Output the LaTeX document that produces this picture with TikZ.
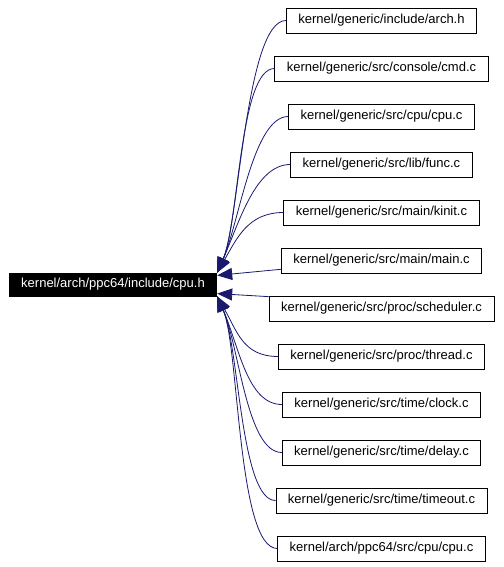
\documentclass[tikz,border=0pt]{standalone}
\usepackage{fontspec}
\setmainfont{Liberation Sans}
\usepackage{xcolor}
\usepackage{tikz}
\usetikzlibrary{positioning,arrows.meta}

\definecolor{edgeblue}{HTML}{191970}

\begin{document}
\begin{tikzpicture}[x=1pt, y=-1pt, node distance=22.2pt,
			box/.style={draw, rectangle, line width=0.8pt, minimum height=25pt, inner xsep=12pt, align=center, font=\fontsize{13}{15}\selectfont},
			arrow/.style={edgeblue, line width=0.8pt, -{Triangle[length=15pt, width=12pt]}}]
			
			\useasboundingbox (0,0) rectangle (503,567);
			
			\node[box, fill=black, text=white, minimum height=23pt] (cpuh) at (113,284.5) {kernel/arch/ppc64/include/cpu.h};
			
			\node[box] (arch) at (381.5,20.5) {kernel/generic/include/arch.h};
			\node[box, below=of arch] (cmd) {kernel/generic/src/console/cmd.c};
			\node[box, below=of cmd] (cpuc) {kernel/generic/src/cpu/cpu.c};
			\node[box, below=of cpuc] (func) {kernel/generic/src/lib/func.c};
			\node[box, below=of func] (kinit) {kernel/generic/src/main/kinit.c};
			\node[box, below=of kinit] (main) {kernel/generic/src/main/main.c};
			\node[box, below=of main] (sched) {kernel/generic/src/proc/scheduler.c};
			\node[box, below=of sched] (thread) {kernel/generic/src/proc/thread.c};
			\node[box, below=of thread] (clock) {kernel/generic/src/time/clock.c};
			\node[box, below=of clock] (delay) {kernel/generic/src/time/delay.c};
			\node[box, below=of delay] (timeout) {kernel/generic/src/time/timeout.c};
			\node[box, below=of timeout] (ppccpu) {kernel/arch/ppc64/src/cpu/cpu.c};
			
			% includes pointing back to cpu.h
			\draw[arrow] (arch.west) .. controls +(-40,0) and +(22,-50) .. (cpuh.north east);
			\draw[arrow] (cmd.west) .. controls +(-35,0) and +(22,-50) .. (cpuh.north east);
			\draw[arrow] (cpuc.west) .. controls +(-35,0) and +(22,-50) .. (cpuh.north east);
			\draw[arrow] (func.west) .. controls +(-35,0) and +(22,-50) .. (cpuh.north east);
			\draw[arrow] (kinit.west) .. controls +(-35,0) and +(20,-35) .. (cpuh.north east);
			\draw[arrow] (main.185) -- (cpuh.5);
			\draw[arrow] (sched.174) -- (cpuh.-5);
			\draw[arrow] (thread.west) .. controls +(-35,0) and +(20,35) .. (cpuh.south east);
			\draw[arrow] (clock.west) .. controls +(-35,0) and +(22,50) .. (cpuh.south east);
			\draw[arrow] (delay.west) .. controls +(-35,0) and +(22,50) .. (cpuh.south east);
			\draw[arrow] (timeout.west) .. controls +(-35,0) and +(22,50) .. (cpuh.south east);
			\draw[arrow] (ppccpu.west) .. controls +(-40,0) and +(22,50) .. (cpuh.south east);
			
		\end{tikzpicture}
\end{document}
